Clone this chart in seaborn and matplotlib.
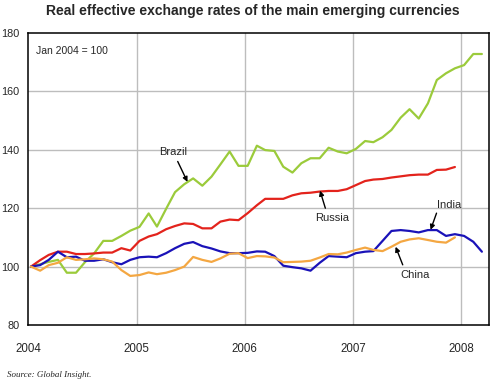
import matplotlib
matplotlib.use("Agg")
import matplotlib.pyplot as plt
import seaborn as sns
import pandas as pd

brazil = [100, 100.8, 101.6, 102.3, 97.9, 97.9, 101.5, 104.5, 108.8, 108.8, 110.5, 112.3,
          113.6, 118.2, 113.7, 119.8, 125.5, 128.2, 130.2, 127.7, 130.8, 135.0, 139.4, 134.5,
          134.5, 141.4, 139.9, 139.6, 134.2, 132.2, 135.4, 137.1, 137.1, 140.7, 139.4, 138.8,
          140.3, 143.0, 142.6, 144.3, 146.8, 151.0, 153.9, 150.7, 155.9, 163.9, 166.2, 167.9,
          169.0, 172.8, 172.8]
russia = [100, 102.2, 104.0, 105.1, 105.1, 104.3, 104.3, 104.5, 104.8, 104.8, 106.3, 105.5,
          108.8, 110.3, 111.1, 112.8, 113.9, 114.8, 114.6, 113.1, 113.1, 115.4, 116.1, 115.9,
          118.3, 121.0, 123.2, 123.2, 123.2, 124.4, 125.1, 125.3, 125.7, 125.9, 125.9, 126.5,
          127.9, 129.3, 129.8, 130.0, 130.5, 130.9, 131.3, 131.5, 131.5, 133.1, 133.2, 134.1]
india = [100, 100.5, 102.3, 105.1, 103.2, 103.4, 102.0, 102.0, 102.5, 101.5, 100.8, 102.3,
         103.2, 103.4, 103.2, 104.6, 106.3, 107.8, 108.4, 107.0, 106.2, 105.2, 104.6, 104.6,
         104.7, 105.2, 105.1, 103.6, 100.3, 99.8, 99.4, 98.6, 101.3, 103.6, 103.4, 103.2,
         104.6, 105.1, 105.3, 108.8, 112.2, 112.5, 112.2, 111.7, 112.5, 112.5, 110.5, 111.1,
         110.5, 108.5, 105.1]
china = [100, 98.6, 100.5, 101.3, 103.2, 102.3, 102.5, 102.8, 102.5, 101.7, 98.8, 96.8,
         97.1, 98.0, 97.4, 97.9, 98.8, 100.0, 103.3, 102.3, 101.6, 102.8, 104.4, 104.6,
         102.9, 103.6, 103.5, 103.1, 101.5, 101.6, 101.7, 102.0, 103.1, 104.3, 104.2, 104.8,
         105.7, 106.5, 105.7, 105.3, 106.8, 108.5, 109.3, 109.7, 109.1, 108.5, 108.2, 110.0]

series = {"Brazil": brazil, "Russia": russia, "India": india, "China": china}
colors = {"Brazil": "#9bcb3b", "Russia": "#e3231c", "India": "#1a12b8", "China": "#f4a742"}
year_labels = ["2004", "2005", "2006", "2007", "2008"]
y_ticks = [80, 100, 120, 140, 160, 180]

frames = []
for name, vals in series.items():
    dates = pd.date_range("2004-01-01", periods=len(vals), freq="MS") + pd.Timedelta(days=10)
    frames.append(pd.DataFrame({"date": dates, "value": vals, "country": name}))
df = pd.concat(frames, ignore_index=True)

sns.set_style("white")
plt.rcParams["font.family"] = ["Liberation Sans", "DejaVu Sans"]

fig = plt.figure(figsize=(5.0, 3.88), dpi=100)
ax = fig.add_axes([0.056, 0.1624, 0.922, 0.7526])

for yv in y_ticks[1:-1]:
    ax.axhline(yv, color="#bdbdbd", lw=1.0, zorder=0)
for yl in year_labels[1:]:
    ax.axvline(pd.Timestamp(f"{yl}-01-01"), color="#bdbdbd", lw=1.0, zorder=0)

sns.lineplot(data=df, x="date", y="value", hue="country", palette=colors,
             estimator=None, linewidth=1.6, legend=False, ax=ax, zorder=3)

ax.set_xlim(pd.Timestamp("2004-01-01"), pd.Timestamp("2008-04-04"))
ax.set_ylim(80, 180)
ax.set_yticks(y_ticks)
ax.set_yticklabels([str(v) for v in y_ticks])
ax.set_xticks([pd.Timestamp(f"{y}-01-01") for y in year_labels])
ax.set_xticklabels(year_labels)
ax.set_xlabel("")
ax.set_ylabel("")
ax.tick_params(axis="x", length=3, width=1, color="black", pad=10, labelsize=8.3)
ax.tick_params(axis="y", length=0, pad=6, labelsize=7.8)
for s in ax.spines.values():
    s.set_visible(True)
    s.set_color("black")
    s.set_linewidth(1.1)

fig.suptitle("Real effective exchange rates of the main emerging currencies",
             x=0.506, y=0.99, fontsize=10, fontweight="bold", va="top")
ax.text(0.018, 0.955, "Jan 2004 = 100", transform=ax.transAxes, fontsize=7.5,
        va="top", ha="left")

arrowprops = dict(arrowstyle="-|>", color="black", lw=1.0, mutation_scale=7,
                  shrinkA=0, shrinkB=0)

ax.annotate("", xy=(pd.Timestamp("2005-06-22"), 129.0), xytext=(pd.Timestamp("2005-05-20"), 136.0),
            arrowprops=arrowprops)
ax.text(pd.Timestamp("2005-05-05"), 139.2, "Brazil", fontsize=8, ha="center", va="center")
ax.annotate("", xy=(pd.Timestamp("2006-09-12"), 126.0), xytext=(pd.Timestamp("2006-09-30"), 120.0),
            arrowprops=arrowprops)
ax.text(pd.Timestamp("2006-10-22"), 116.8, "Russia", fontsize=8, ha="center", va="center")
ax.annotate("", xy=(pd.Timestamp("2007-09-20"), 112.6), xytext=(pd.Timestamp("2007-10-10"), 118.3),
            arrowprops=arrowprops)
ax.text(pd.Timestamp("2007-11-20"), 121.0, "India", fontsize=8, ha="center", va="center")
ax.annotate("", xy=(pd.Timestamp("2007-05-25"), 106.8), xytext=(pd.Timestamp("2007-06-18"), 100.6),
            arrowprops=arrowprops)
ax.text(pd.Timestamp("2007-07-28"), 97.0, "China", fontsize=8, ha="center", va="center")

fig.text(0.014, 0.033, "Source: Global Insight.", fontsize=6.5, style="italic",
         family=["Liberation Serif", "DejaVu Serif"], ha="left", va="center")

fig.savefig("out.png", dpi=100)
